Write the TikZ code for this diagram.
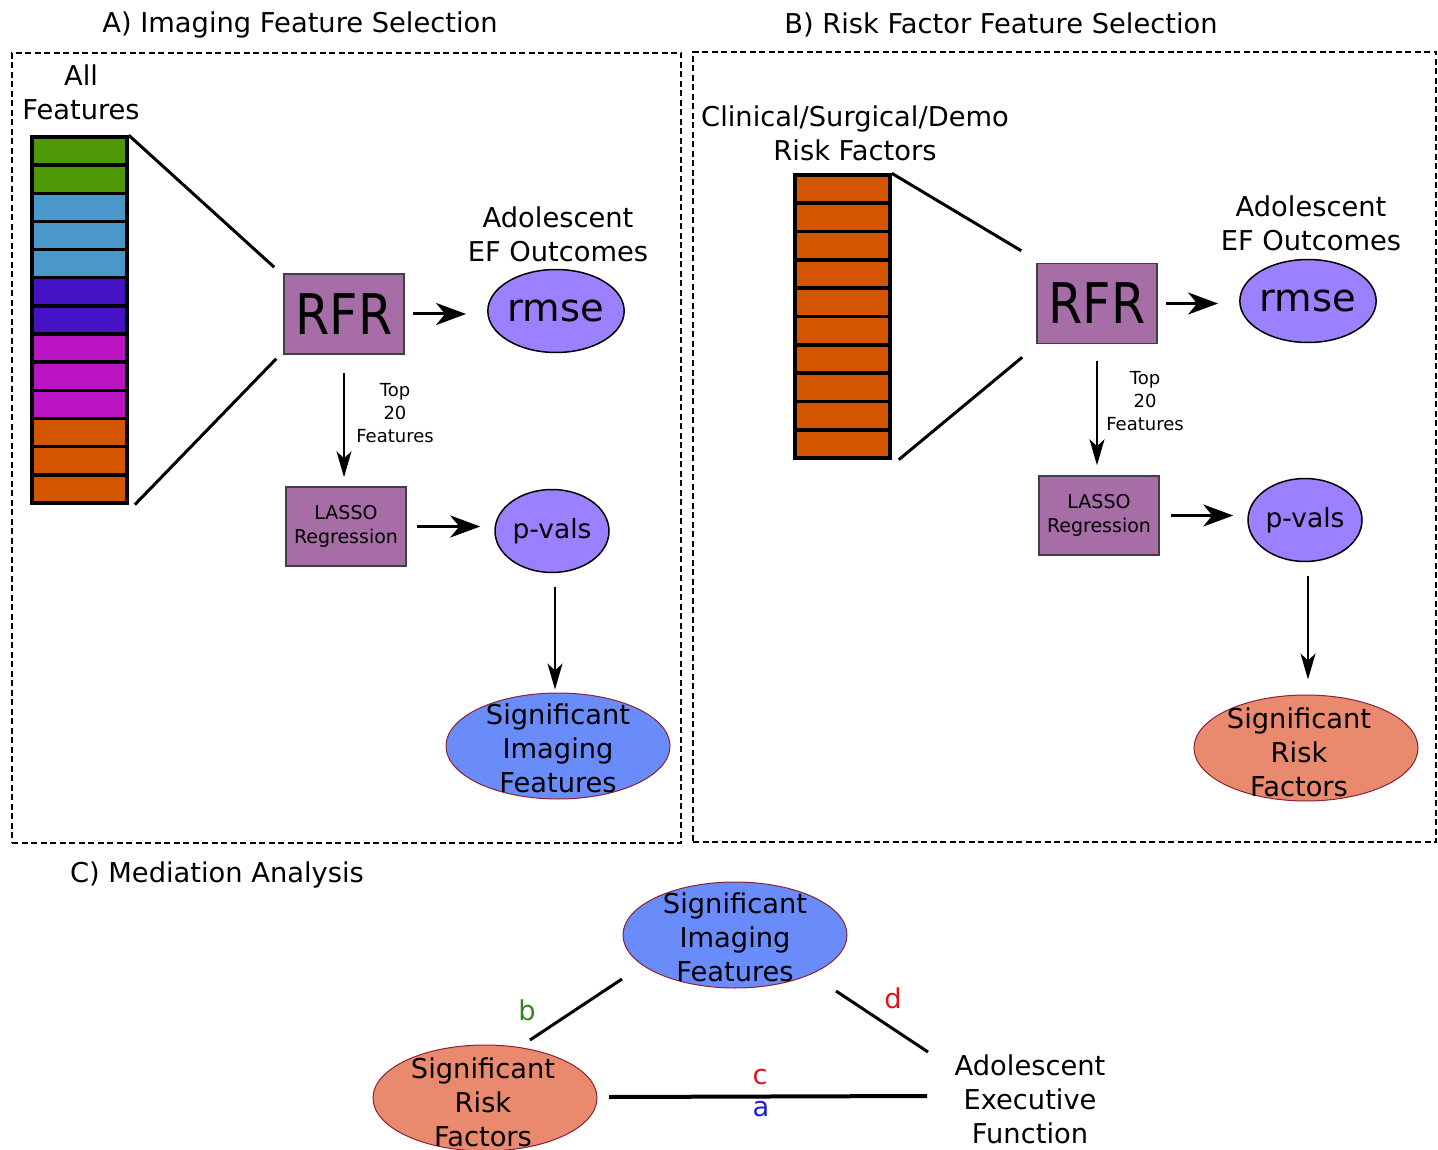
\documentclass[tikz,border=0pt]{standalone}
\usepackage{fontspec}
\setmainfont{DejaVu Sans}
\usetikzlibrary{shapes.geometric,arrows.meta,calc}
\definecolor{cgreen}{HTML}{4E9A06}
\definecolor{cblue}{HTML}{4A98C9}
\definecolor{cindigo}{HTML}{4512C6}
\definecolor{cmagenta}{HTML}{BA14C2}
\definecolor{corange}{HTML}{D45500}
\definecolor{cpurple}{HTML}{A66DA6}
\definecolor{cviolet}{HTML}{9B80FF}
\definecolor{cimg}{HTML}{6A8BFA}
\definecolor{crisk}{HTML}{E98A6E}
\definecolor{cborder}{HTML}{8B2232}
\definecolor{lblgreen}{HTML}{2E8B1E}
\definecolor{lblred}{HTML}{E0141E}
\definecolor{lblblue}{HTML}{1E1ED2}
\newcommand{\rfrtext}{\scalebox{0.88}[1]{RFR}}
\tikzset{
  frame/.style={draw, dash pattern=on 6pt off 3.5pt, line width=2.3pt},
  txt/.style={font=\fontsize{27.3}{34}\selectfont, align=center, inner sep=0pt},
  smalltxt/.style={font=\fontsize{18}{23}\selectfont, align=center, inner sep=0pt},
  cell/.style={draw, line width=3.5pt, minimum width=95pt, minimum height=28.2pt, inner sep=0pt},
  method/.style={draw=black!75, line width=1.5pt, fill=cpurple, inner sep=0pt},
  rfrbox/.style={method, minimum width=120pt, minimum height=80pt, font=\fontsize{56}{60}\selectfont},
  lassobox/.style={method, minimum width=120pt, minimum height=79pt, align=center, font=\fontsize{19}{24}\selectfont},
  result/.style={ellipse, draw, line width=1.5pt, fill=cviolet, minimum width=114pt, minimum height=83pt, inner sep=0pt},
  sig/.style={ellipse, draw=cborder, line width=1pt, minimum width=224pt, minimum height=106pt, inner sep=0pt},
  bigarrow/.style={-{Stealth[length=30pt,width=22pt,inset=9pt]}, line width=3pt},
  smallarrow/.style={-{Stealth[length=26pt,width=15pt,inset=7pt]}, line width=2pt},
  link/.style={line width=3pt}
}
\begin{document}
\begin{tikzpicture}[x=1pt,y=-1pt]
\useasboundingbox (0,0) rectangle (1438,1150);
% frames and titles
\node[frame, minimum width=669pt, minimum height=790pt, inner sep=0pt] (frameA) at (346.5,448) {};
\node[frame, minimum width=743pt, minimum height=790pt, inner sep=0pt] (frameB) at (1064.5,447) {};
\node[txt] (titleA) at (300,25) {A) Imaging Feature Selection};
\node[txt] (titleB) at (1001,25) {B) Risk Factor Feature Selection};
\node[txt] (titleC) at (217,875) {C) Mediation Analysis};

% ---------- A ----------
\node[txt] (allfeat) at (81,92.5) {All\\Features};
\foreach \c [count=\i from 0] in {cgreen,cgreen,cblue,cblue,cblue,cindigo,cindigo,cmagenta,cmagenta,cmagenta,corange,corange,corange}
  \node[cell, fill=\c] (a\i) at (79.5,{137+(\i+0.5)*28.15}) {};
\node[rfrbox] (rfrA) at (344,314) {\rfrtext};
\node[result, font=\fontsize{38.5}{40}\selectfont] (rmseA) at (556,311) {rmse};
\node[txt] (outA) at (558,234.5) {Adolescent\\EF Outcomes};
\node[lassobox] (lassoA) at (346,526.5) {LASSO\\Regression};
\node[result, font=\fontsize{26.5}{30}\selectfont] (pvalA) at (552,531) {p-vals};
\node[smalltxt] (topA) at (395,413) {Top\\20\\Features};
\node[sig, fill=cimg] (sigImgA) at (558,746) {};
\node[txt] (sigImgAtxt) at (558,748) {Significant\\Imaging\\Features};

\draw[link] (a0.north east) -- ($(rfrA.north west)+(-9,-6)$);
\draw[link] ($(a12.south east)+(6,0)$) -- ($(rfrA.south west)+(-7,4)$);
\draw[bigarrow, shorten <=8pt, shorten >=21pt] (rfrA.east) -- (rfrA.east -| rmseA.west);
\draw[smallarrow, shorten <=18pt, shorten >=9pt] (rfrA.south) -- (rfrA.south |- lassoA.north);
\draw[bigarrow, shorten <=10pt, shorten >=14pt] (lassoA.east) -- (lassoA.east -| pvalA.west);
\draw[smallarrow, shorten <=14pt, shorten >=3pt] ($(pvalA.south)+(3,0)$) -- ($(pvalA.south |- sigImgA.north)+(3,0)$);

% ---------- B ----------
\node[txt] (clin) at (855,133.5) {Clinical/Surgical/Demo\\Risk Factors};
\foreach \i in {0,...,9}
  \node[cell, fill=corange] (b\i) at (842.5,{175+(\i+0.5)*28.3}) {};
\node[rfrbox] (rfrB) at (1097,303.5) {\rfrtext};
\node[result, font=\fontsize{38.5}{40}\selectfont] (rmseB) at (1308,301) {rmse};
\node[txt] (outB) at (1311,223.5) {Adolescent\\EF Outcomes};
\node[lassobox] (lassoB) at (1099,515.5) {LASSO\\Regression};
\node[result, font=\fontsize{26.5}{30}\selectfont] (pvalB) at (1305,520) {p-vals};
\node[smalltxt] (topB) at (1145,401) {Top\\20\\Features};
\node[sig, fill=crisk] (sigRiskB) at (1306,748) {};
\node[txt] (sigRiskBtxt) at (1299,752) {Significant\\Risk\\Factors};

\draw[link] (b0.north east) -- ($(rfrB.north west)+(-15,-12)$);
\draw[link] ($(b9.south east)+(7,0)$) -- ($(rfrB.south west)+(-14,13)$);
\draw[bigarrow, shorten <=8pt, shorten >=21pt] (rfrB.east) -- (rfrB.east -| rmseB.west);
\draw[smallarrow, shorten <=17pt, shorten >=10pt] (rfrB.south) -- (rfrB.south |- lassoB.north);
\draw[bigarrow, shorten <=11pt, shorten >=14pt] (lassoB.east) -- (lassoB.east -| pvalB.west);
\draw[smallarrow, shorten <=14pt, shorten >=15pt] ($(pvalB.south)+(3,0)$) -- ($(pvalB.south |- sigRiskB.north)+(3,0)$);

% ---------- C ----------
\node[sig, fill=cimg] (sigImgC) at (735,935) {};
\node[txt] (sigImgCtxt) at (735,937) {Significant\\Imaging\\Features};
\node[sig, fill=crisk] (sigRiskC) at (485,1098) {};
\node[txt] (sigRiskCtxt) at (483,1102) {Significant\\Risk\\Factors};
\node[txt] (aef) at (1030,1099) {Adolescent\\Executive\\Function};

\draw[link] ($(sigRiskC.center)+(45,-58)$) -- ($(sigImgC.center)+(-113,44)$);
\draw[link] ($(sigImgC.center)+(101,56)$) -- ($(aef.center)+(-102,-47)$);
\draw[line width=4pt] ($(sigRiskC.center)+(124,-1)$) -- ($(aef.center)+(-103,-3)$);
\node[txt, text=lblgreen] (lb) at (527,1010) {b};
\node[txt, text=lblred] (ld) at (893,998) {d};
\node[txt, text=lblred] (lc) at (760,1077) {c};
\node[txt, text=lblblue] (la) at (761,1109) {a};
\end{tikzpicture}
\end{document}
